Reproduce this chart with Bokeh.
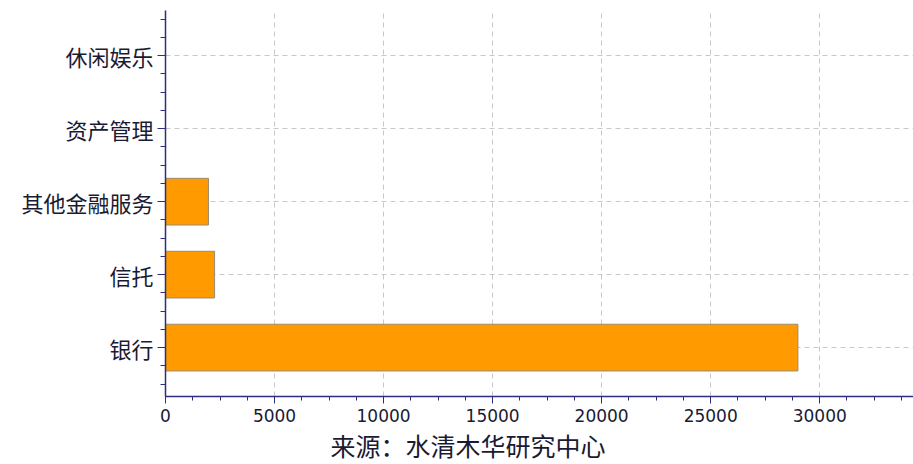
import numpy as np
from bokeh.plotting import figure
from bokeh.models import (ColumnDataSource, FixedTicker, SingleIntervalTicker, Range1d, Title)
from bokeh.embed import file_html
from bokeh.resources import INLINE

categories = ["银行", "信托", "其他金融服务", "资产管理", "休闲娱乐"]
values = [29000, 2250, 1970, 0, 0]
source_text = "来源：水清木华研究中心"

ypos = list(range(len(categories)))
src = ColumnDataSource(dict(y=ypos, v=values, name=categories))

p = figure(width=913, height=464, output_backend="svg", toolbar_location=None,
           x_range=Range1d(0, 34300), y_range=Range1d(-0.67, len(categories) - 1 + 0.62),
           min_border_left=165, min_border_right=0, min_border_top=10, min_border_bottom=68)
p.outline_line_color = None
p.background_fill_color = "white"

p.hbar(y="y", right="v", left=0, height=0.64, source=src,
       fill_color="#ff9a00", line_color="#9c8a6c", line_width=1)

ax = p.xaxis[0]
ax.ticker = SingleIntervalTicker(interval=5000, num_minor_ticks=4)
ay = p.yaxis[0]
ay.ticker = FixedTicker(ticks=ypos, minor_ticks=list(np.arange(-0.5, len(categories) - 0.25, 0.25)))
ay.major_label_overrides = {i: c for i, c in zip(ypos, categories)}

for a in (ax, ay):
    a.axis_line_color = "#2e2e80"
    a.axis_line_width = 1.5
    a.major_tick_line_color = "#2e2e80"
    a.minor_tick_line_color = "#2e2e80"
    a.major_tick_in = 0
    a.minor_tick_in = 0
    a.major_label_text_color = "#1a1a33"

ax.major_tick_out = 7
ax.minor_tick_out = 4
ax.major_label_text_font = "DejaVu Sans"
ax.major_label_text_font_size = "17px"
ax.major_label_standoff = 5

ay.major_tick_out = 8
ay.minor_tick_out = 5
ay.major_label_text_font = "Noto Sans CJK SC"
ay.major_label_text_font_size = "22px"
ay.major_label_standoff = 4

p.xgrid.grid_line_color = "#c8c8c8"
p.xgrid.grid_line_dash = "5 4"
p.ygrid.grid_line_color = "#c8c8c8"
p.ygrid.grid_line_dash = "5 4"

t = Title(text=source_text, align="left", offset=165, text_font="Noto Sans CJK SC",
          text_font_size="25px", text_font_style="normal", text_color="#1a1a33", standoff=0)
p.add_layout(t, "below")

open("out.html", "w").write(file_html(p, INLINE))
